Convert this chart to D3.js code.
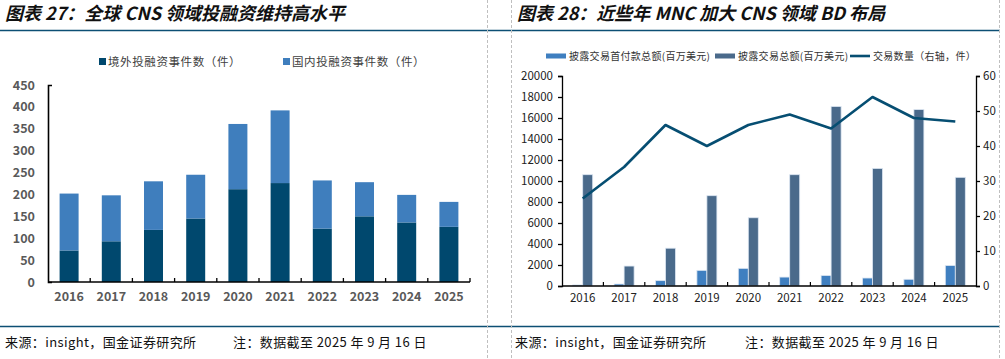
<!DOCTYPE html>
<html><head><meta charset="utf-8">
<script src="https://cdn.jsdelivr.net/npm/d3@7"></script>
<style>
body{margin:0;background:#fff;}
svg{display:block;}
text{font-family:"Noto Sans CJK SC","Liberation Sans",sans-serif;}
</style></head><body>
<svg id="c" width="1005" height="359"></svg>
<script>
const years = ["2016","2017","2018","2019","2020","2021","2022","2023","2024","2025"];
// Chart 27
const overseas = [72,93,119,145,212,226,122,150,136,126];
const domestic = [130,105,111,100,149,166,110,78,63,57];
const leftTicks = [0,50,100,150,200,250,300,350,400,450];
// Chart 28
const upfront = [100,190,510,1490,1680,850,1000,760,640,1950];
const totalDeal = [10600,1900,3600,8600,6500,10600,17100,11200,16800,10350];
const dealCount = [25,34,46,40,46,49,45,54,48,47];
const rTicksL = [0,2000,4000,6000,8000,10000,12000,14000,16000,18000,20000];
const rTicksR = [0,10,20,30,40,50,60];

const svg = d3.select("#c");
const navy = "#0d4f74";

// frame lines
svg.append("line").attr("x1",0).attr("x2",1000).attr("y1",30.5).attr("y2",30.5).attr("stroke",navy).attr("stroke-width",1.3);
svg.append("line").attr("x1",0).attr("x2",1000).attr("y1",326.5).attr("y2",326.5).attr("stroke",navy).attr("stroke-width",1.3);
[487.5,511.5,999.5].forEach(x=>svg.append("line").attr("x1",x).attr("x2",x).attr("y1",0).attr("y2",359)
  .attr("stroke","#bfbfbf").attr("stroke-dasharray","3,2").attr("stroke-width",1));

// titles
function title(x,t){svg.append("text").attr("x",x).attr("y",20).attr("font-size",18).attr("font-weight","bold")
  .attr("font-style","italic").attr("fill","#111").text(t);}
title(5,"图表 27：全球 CNS 领域投融资维持高水平");
title(517,"图表 28：近些年 MNC 加大 CNS 领域 BD 布局");

function source(x,nx){
  svg.append("text").attr("x",x).attr("y",347).attr("font-size",13).attr("fill","#111").attr("letter-spacing",0.4).text("来源：insight，国金证券研究所");
  svg.append("text").attr("x",nx).attr("y",347).attr("font-size",13).attr("fill","#111").attr("letter-spacing",0.4).text("注：数据截至 2025 年 9 月 16 日");
}
source(5,233); source(515,745);

// ---- Left chart
{
const x = d3.scaleBand().domain(years).range([48,470]).paddingInner(0.55).paddingOuter(0.275);
const y = d3.scaleLinear().domain([0,450]).range([282,85]);
const cDark="#00486e", cLight="#3f7ebd";
const g = svg.append("g");
years.forEach((yr,i)=>{
  g.append("rect").attr("x",x(yr)).attr("width",x.bandwidth()).attr("y",y(overseas[i])).attr("height",y(0)-y(overseas[i])).attr("fill",cDark);
  g.append("rect").attr("x",x(yr)).attr("width",x.bandwidth()).attr("y",y(overseas[i]+domestic[i])).attr("height",y(overseas[i])-y(overseas[i]+domestic[i])).attr("fill",cLight);
});
const ya = g.append("g").attr("transform","translate(48,0)").call(d3.axisLeft(y).tickValues(leftTicks).tickSizeInner(0).tickSizeOuter(-4).tickPadding(13));
ya.select(".domain").attr("stroke","#000").attr("stroke-width",1.6);
ya.selectAll("text").attr("font-family","Liberation Sans,Arial").attr("font-weight","bold").attr("font-size",12.5).attr("fill","#595959");
// x axis
const xa = g.append("g").attr("transform","translate(0,282)");
xa.append("line").attr("x1",48).attr("x2",470).attr("y1",0).attr("y2",0).attr("stroke","#000").attr("stroke-width",1.6);
const step = x.step();
years.forEach((yr,i)=>{
  const bx = 48 + step*(i+1);
  xa.append("line").attr("x1",bx).attr("x2",bx).attr("y1",0).attr("y2",-4).attr("stroke","#000").attr("stroke-width",1.3);
  xa.append("text").attr("x",x(yr)+x.bandwidth()/2).attr("y",19).attr("text-anchor","middle")
    .attr("font-family","Liberation Sans,Arial").attr("font-weight","bold").attr("font-size",12.5).attr("fill","#595959").text(yr);
});
// legend
const lg=[["境外投融资事件数（件）",cDark,99],["国内投融资事件数（件）",cLight,283]];
lg.forEach(([t,c,lx])=>{
  svg.append("rect").attr("x",lx).attr("y",58).attr("width",7).attr("height",7).attr("fill",c);
  svg.append("text").attr("x",lx+9).attr("y",66).attr("font-size",11.5).attr("letter-spacing",0.6).attr("fill","#404040").text(t);
});
}

// ---- Right chart
{
const x = d3.scaleBand().domain(years).range([562,976]);
const yL = d3.scaleLinear().domain([0,20000]).range([286,76]);
const yR = d3.scaleLinear().domain([0,60]).range([286,76]);
const cUp="#3f7fc0", cTot="#4a6a8b", cLine="#064e72";
const bw = 10;
const g = svg.append("g");
years.forEach((yr,i)=>{
  const cx = x(yr)+x.bandwidth()/2;
  g.append("rect").attr("x",cx-bw).attr("width",bw).attr("y",yL(upfront[i])).attr("height",yL(0)-yL(upfront[i]))
    .attr("fill",cUp).attr("stroke","#dce6f2").attr("stroke-width",0.8);
  g.append("rect").attr("x",cx).attr("width",bw).attr("y",yL(totalDeal[i])).attr("height",yL(0)-yL(totalDeal[i]))
    .attr("fill",cTot).attr("stroke","#dce6f2").attr("stroke-width",0.8);
});
const line = d3.line().x((d,i)=>x(years[i])+x.bandwidth()/2).y(d=>yR(d));
g.append("path").datum(dealCount).attr("d",line).attr("fill","none").attr("stroke",cLine).attr("stroke-width",2.6).attr("stroke-linejoin","round");

const la = g.append("g").attr("transform","translate(562,0)").call(d3.axisLeft(yL).tickValues(rTicksL).tickFormat(d3.format("d")).tickSize(4).tickSizeOuter(4).tickPadding(5));
const ra = g.append("g").attr("transform","translate(976,0)").call(d3.axisRight(yR).tickValues(rTicksR).tickFormat(d3.format("d")).tickSize(4).tickSizeOuter(4).tickPadding(3));
[la,ra].forEach(a=>{
  a.selectAll(".domain,line").attr("stroke","#000").attr("stroke-width",1.3);
  a.selectAll("text").attr("font-family","Liberation Sans,Arial").attr("font-size",11.5).attr("fill","#222");
});
const xa = g.append("g").attr("transform","translate(0,286)");
xa.append("line").attr("x1",562).attr("x2",976).attr("y1",0).attr("y2",0).attr("stroke","#000").attr("stroke-width",1.4);
years.forEach((yr,i)=>{
  const bx = 562 + x.step()*(i+1);
  if(i<9) xa.append("line").attr("x1",bx).attr("x2",bx).attr("y1",0).attr("y2",-4).attr("stroke","#000").attr("stroke-width",1.2);
  xa.append("text").attr("x",x(yr)+x.bandwidth()/2).attr("y",16).attr("text-anchor","middle")
    .attr("font-family","Liberation Sans,Arial").attr("font-size",11.5).attr("fill","#222").text(yr);
});
// legend
const items=[["披露交易首付款总额(百万美元)",cUp,546,"rect"],["披露交易总额(百万美元)",cTot,715,"rect"],["交易数量（右轴，件）",cLine,850,"line"]];
items.forEach(([t,c,lx,k])=>{
  if(k==="rect") svg.append("rect").attr("x",lx).attr("y",53.5).attr("width",20).attr("height",5).attr("fill",c);
  else svg.append("line").attr("x1",lx).attr("x2",lx+20).attr("y1",56).attr("y2",56).attr("stroke",c).attr("stroke-width",2.6);
  svg.append("text").attr("x",lx+23).attr("y",60).attr("font-size",10).attr("letter-spacing",0.3).attr("fill","#333").text(t);
});
}
</script>
</body></html>
